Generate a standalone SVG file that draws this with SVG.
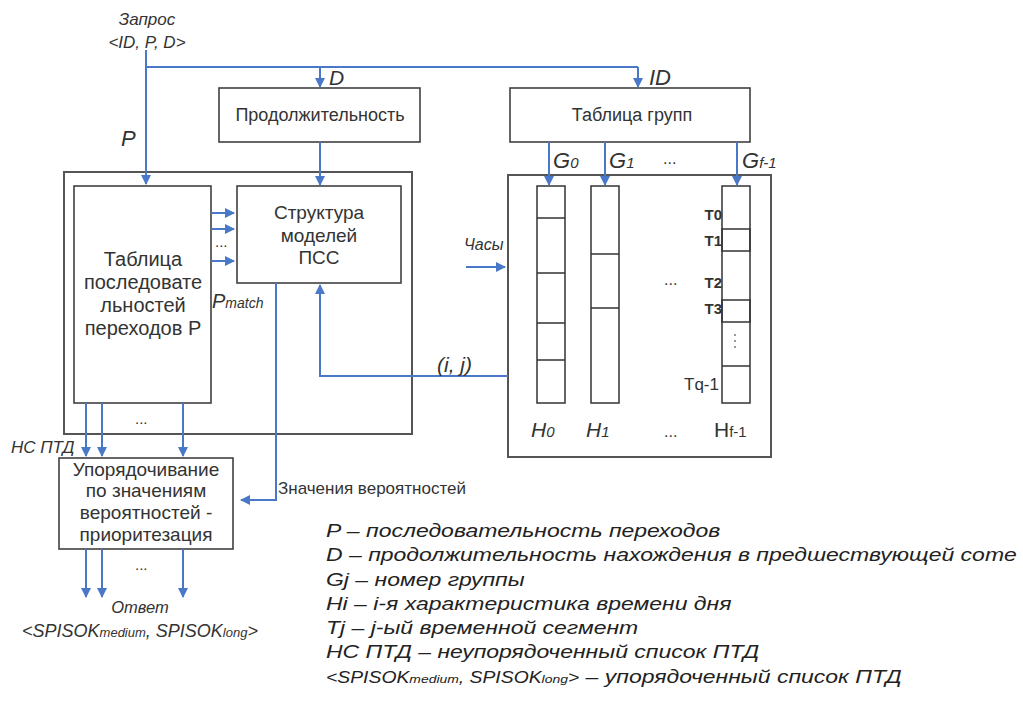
<svg xmlns="http://www.w3.org/2000/svg" width="1023" height="708" viewBox="0 0 1023 708" font-size="17">
<defs>
<marker id="ah" markerWidth="10" markerHeight="10" refX="9" refY="5" orient="auto" markerUnits="userSpaceOnUse">
<path d="M0,0 L10,5 L0,10 z" fill="#4a78c8"/>
</marker>
<style>
.box{fill:#fff;stroke:#404040;stroke-width:1.6}
.frame{fill:none;stroke:#555;stroke-width:2}
.cell{fill:none;stroke:#333;stroke-width:1.5}
.ln{fill:none;stroke:#4a78c8;stroke-width:2}
.ar{fill:none;stroke:#4a78c8;stroke-width:2;marker-end:url(#ah)}
.t{font-family:"Liberation Sans",Arial,sans-serif;fill:#333}
.c{text-anchor:middle}
.i{font-style:italic}
.lg{font-family:"Liberation Sans",Arial,sans-serif;fill:#222;font-style:italic}
</style>
</defs>
<rect width="1023" height="708" fill="#fff"/>

<g id="frame-left"><rect class="frame" x="64" y="172" width="348" height="262"/></g>
<g id="frame-right"><rect class="frame" x="508" y="175" width="263" height="282"/></g>

<g id="query">
<text class="t c i" x="147" y="25">Запрос</text>
<text class="t c i" x="147" y="48">&lt;ID, P, D&gt;</text>
</g>

<g id="duration"><rect class="box" x="219" y="88" width="201" height="54"/>
<text class="t c" x="320" y="121" font-size="18">Продолжительность</text></g>

<g id="groups"><rect class="box" x="510" y="88" width="240" height="54"/>
<text class="t c" x="632" y="121" font-size="18">Таблица групп</text></g>

<g id="seqtable"><rect class="box" x="74" y="186" width="137" height="217"/>
<g class="t c" font-size="20">
<text x="143" y="266">Таблица</text>
<text x="143" y="289">последовате</text>
<text x="143" y="312">льностей</text>
<text x="143" y="335">переходов Р</text></g></g>

<g id="models"><rect class="box" x="237" y="186" width="164" height="97"/>
<g class="t c" font-size="19">
<text x="319" y="219">Структура</text>
<text x="319" y="242">моделей</text>
<text x="319" y="264">ПСС</text></g></g>

<g id="ordering"><rect class="box" x="59" y="458" width="174" height="91"/>
<g class="t c" font-size="19">
<text x="146" y="476">Упорядочивание</text>
<text x="146" y="497">по значениям</text>
<text x="146" y="519">вероятностей -</text>
<text x="146" y="541">приоритезация</text></g></g>

<g id="col-h0"><rect class="cell" x="537" y="186" width="28" height="217"/>
<path class="cell" d="M537,218H565M537,273H565M537,323H565M537,360H565"/></g>
<g id="col-h1"><rect class="cell" x="591" y="186" width="28" height="217"/>
<path class="cell" d="M591,254H619M591,308H619"/></g>
<g id="col-hf"><rect class="cell" x="722" y="186" width="28" height="217"/>
<rect class="cell" x="722" y="229" width="28" height="22"/>
<rect class="cell" x="722" y="300" width="28" height="22"/>
<path class="cell" d="M722,366H750"/>
<path d="M735,334v2M735,340v2M735,346v2" stroke="#555" stroke-width="1.2"/>
<g class="t" font-size="15" text-anchor="end" font-weight="bold">
<text x="722" y="220">T0</text><text x="722" y="246">T1</text><text x="722" y="288">T2</text><text x="722" y="314">T3</text>
<text x="719" y="390" font-weight="normal" font-size="17">Tq-1</text></g></g>

<g id="connectors">
<path class="ar" d="M146,50V184"/>
<path class="ln" d="M146,67H638"/>
<path class="ar" d="M320,67V87"/>
<path class="ar" d="M638,67V87"/>
<path class="ar" d="M320,142V185"/>
<path class="ar" d="M549,142V185"/>
<path class="ar" d="M605,142V185"/>
<path class="ar" d="M737,142V185"/>
<path class="ar" d="M211,213H234"/>
<path class="ar" d="M211,229H234"/>
<path class="ar" d="M211,261H234"/>
<path class="ar" d="M466,267H505"/>
<path class="ar" d="M508,376H320V285"/>
<path class="ar" d="M276,283V500H241"/>
<path class="ar" d="M86,403V456"/>
<path class="ar" d="M102,403V456"/>
<path class="ar" d="M183,403V456"/>
<path class="ar" d="M86,549V597"/>
<path class="ar" d="M102,549V597"/>
<path class="ar" d="M183,549V597"/>
</g>

<g id="labels">
<text class="t i" x="121" y="146" font-size="22">P</text>
<text class="t i" x="329" y="85" font-size="21">D</text>
<text class="t i" x="649" y="85" font-size="22">ID</text>
<text class="t i" x="553" y="168" font-size="22">G<tspan font-size="15">0</tspan></text>
<text class="t i" x="609" y="168" font-size="22">G<tspan font-size="15">1</tspan></text>
<text class="t" x="663" y="164" font-size="16">...</text>
<text class="t i" x="742" y="168" font-size="22">G<tspan font-size="15">f-1</tspan></text>
<text class="t" x="215" y="247" font-size="15">...</text>
<text class="t i" x="212" y="308" font-size="20">P<tspan font-size="14">match</tspan></text>
<text class="t i" x="464" y="250" font-size="16">Часы</text>
<text class="t i" x="437" y="372" font-size="21">(i, j)</text>
<text class="t" x="664" y="285" font-size="16">...</text>
<text class="t i" x="531" y="437" font-size="21">H<tspan font-size="15">0</tspan></text>
<text class="t i" x="586" y="437" font-size="21">H<tspan font-size="15">1</tspan></text>
<text class="t" x="664" y="437" font-size="16">...</text>
<text class="t" x="714" y="437" font-size="21">H<tspan font-size="15">f-1</tspan></text>
<text class="t" x="135" y="424" font-size="15">...</text>
<text class="t i" x="11" y="453" font-size="17">НС ПТД</text>
<text class="t" x="278" y="494" font-size="17">Значения вероятностей</text>
<text class="t" x="135" y="570" font-size="15">...</text>
<text class="t c i" x="140" y="613" font-size="16.5">Ответ</text>
<text class="t c i" x="140" y="637" font-size="18">&lt;SPISOK<tspan font-size="13">medium</tspan>, SPISOK<tspan font-size="13">long</tspan>&gt;</text>
</g>

<g id="legend" class="lg" font-size="19" transform="translate(326,0) scale(1.21,1)">
<text x="0" y="537">P – последовательность переходов</text>
<text x="0" y="561">D – продолжительность нахождения в предшествующей соте</text>
<text x="0" y="586">Gj – номер группы</text>
<text x="0" y="610">Hi – i-я характеристика времени дня</text>
<text x="0" y="634">Tj – j-ый временной сегмент</text>
<text x="0" y="658">НС ПТД – неупорядоченный список ПТД</text>
<text x="0" y="683"><tspan font-size="16">&lt;SPISOK<tspan font-size="11.5">medium</tspan>, SPISOK<tspan font-size="11.5">long</tspan>&gt;</tspan> – упорядоченный список ПТД</text>
</g>
</svg>
